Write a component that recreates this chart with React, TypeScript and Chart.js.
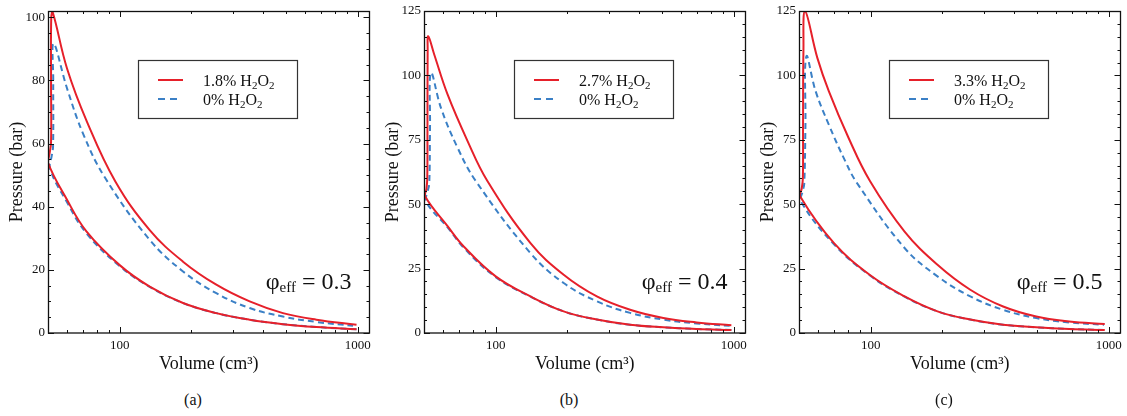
import { useEffect, useRef } from 'react';
import { Chart, registerables } from 'chart.js';

Chart.register(...registerables);

const SERIF = "'Liberation Serif', 'DejaVu Serif', serif";
const RED = '#e6202a';
const BLUE = '#3b80c6';

// ---- labels / ticks ----
const panelCaptions = ['(a)', '(b)', '(c)'];
const phiValues = ['0.3', '0.4', '0.5'];
const redLabels = ['1.8% H₂O₂', '2.7% H₂O₂', '3.3% H₂O₂'];
const blueLabel = '0% H₂O₂';
const xAxisTitle = 'Volume (cm³)';
const yAxisTitle = 'Pressure (bar)';
const yMaxValues = [102, 125, 125];
const yMajorTicksA = [0, 20, 40, 60, 80, 100];
const yMajorTicksBC = [0, 25, 50, 75, 100, 125];
const yMinorStep = 5;
const xMajorTicks = [100, 1000];
const xMinorTicks = [60, 70, 80, 90, 200, 300, 400, 500, 600, 700, 800, 900];
const xMin = 50;
const xMax = 1120;

// ---- panel (a): 1.8% H2O2 vs 0% ----
const redVolumeA = [988, 670, 485, 351.5, 254.6, 184.5, 133.7, 100, 72.5, 59.7, 50, 50.8, 51.5, 51.5, 51.6, 52.3, 60.1, 72.9, 95.9, 133.7, 184.5, 254.6, 351.5, 485, 670, 988];
const redPressureA = [1.2, 1.9, 2.8, 4.2, 6.3, 9.5, 14.7, 21.5, 32.2, 42.6, 54, 57, 60.5, 80, 100, 101.7, 83.8, 66.9, 48, 32.6, 22.6, 15.3, 10, 6.3, 4.2, 2.6];
const blueVolumeA = [988, 670, 485, 351.5, 254.6, 184.5, 133.7, 100, 72.5, 59.7, 51, 51.8, 52.5, 52.6, 52.8, 60.1, 70.6, 87.1, 133.7, 184.5, 254.6, 351.5, 485, 670, 955];
const bluePressureA = [1.2, 1.9, 2.8, 4.2, 6.3, 9.5, 14.6, 21.2, 31.6, 41.8, 52, 56, 59, 80, 91.7, 77.5, 62.7, 49, 29.5, 19.5, 12.6, 7.9, 5.2, 3.5, 2.3];

// ---- panel (b): 2.7% H2O2 vs 0% ----
const redVolumeB = [977, 698, 506, 367, 266, 193, 140, 100, 73.6, 62.8, 50.6, 51.2, 51.6, 51.7, 51.8, 52.1, 55.2, 62.8, 76.2, 92.3, 140, 193, 266, 367, 506, 698, 977];
const redPressureB = [1.15, 1.55, 2.2, 3.2, 5.2, 8.4, 14.2, 22, 33.5, 41.5, 53, 56, 60, 80, 110, 115.2, 108.1, 92.6, 74.5, 59, 34.9, 22.6, 14.2, 9, 5.8, 4.1, 3.0];
const blueVolumeB = [977, 698, 506, 367, 266, 193, 140, 100, 73.6, 62.8, 51, 51.8, 52.6, 53, 53.5, 58.9, 69.2, 82.5, 140, 193, 266, 367, 506, 698, 961];
const bluePressureB = [1.15, 1.55, 2.2, 3.2, 5.2, 8.4, 14.1, 21.7, 33, 41, 51, 55, 58, 80, 101, 87.4, 71.9, 59, 31, 19.4, 12.3, 7.8, 5.2, 3.7, 2.8];

// ---- panel (c): 3.3% H2O2 vs 0% ----
const redVolumeC = [962, 682, 496, 360, 262, 190.8, 138.8, 99.3, 70, 50.6, 51.3, 51.9, 52, 52.2, 53, 59.7, 66.7, 80.7, 99.3, 138.8, 190.8, 262, 360, 496, 682, 962];
const redPressureC = [1.15, 1.55, 2.2, 3.2, 5.2, 8.4, 14.2, 22.5, 35, 53, 56, 60, 80, 110, 125, 106.8, 93.9, 75.8, 59, 39.4, 26.5, 16.8, 10.3, 6.4, 4.5, 3.5];
const blueVolumeC = [955, 682, 496, 360, 262, 190.8, 138.8, 99.3, 70, 51, 51.8, 52.6, 53.2, 53.7, 58.7, 66.7, 78.2, 87.5, 138.8, 190.8, 262, 360, 496, 682, 955];
const bluePressureC = [1.15, 1.55, 2.2, 3.2, 5.2, 8.4, 14.1, 22.3, 34.5, 51, 55, 58, 80, 107.4, 93.9, 80.9, 66.7, 58.3, 33, 22, 14.2, 9, 5.8, 4.1, 3.2];

const redVolumes = [redVolumeA, redVolumeB, redVolumeC];
const redPressures = [redPressureA, redPressureB, redPressureC];
const blueVolumes = [blueVolumeA, blueVolumeB, blueVolumeC];
const bluePressures = [bluePressureA, bluePressureB, bluePressureC];

const PANEL_LEFT = [0, 376, 751];
const CANVAS_W = 376;
const CANVAS_H = 380;

function drawRich(ctx: CanvasRenderingContext2D, text: string, x: number, y: number, size: number) {
  let cx = x;
  let buf = '';
  const flush = () => {
    if (!buf) return;
    ctx.font = `${size}px ${SERIF}`;
    ctx.fillText(buf, cx, y);
    cx += ctx.measureText(buf).width;
    buf = '';
  };
  for (const ch of text) {
    if (ch === '₂') {
      flush();
      const s = Math.round(size * 0.68);
      ctx.font = `${s}px ${SERIF}`;
      ctx.fillText('2', cx, y + size * 0.22);
      cx += ctx.measureText('2').width;
    } else {
      buf += ch;
    }
  }
  flush();
}

function Panel({ index }: { index: number }) {
  const ref = useRef<HTMLCanvasElement | null>(null);

  useEffect(() => {
    const canvas = ref.current;
    if (!canvas) return;
    const yMajor = index === 0 ? yMajorTicksA : yMajorTicksBC;
    const yMax = yMaxValues[index];

    const framePlugin = {
      id: 'frameTicks',
      afterDatasetsDraw(chart: any) {
        const { ctx, chartArea } = chart;
        const { left, right, top, bottom } = chartArea;
        const xs = chart.scales.x;
        const ys = chart.scales.y;
        ctx.save();
        ctx.strokeStyle = '#111';
        ctx.lineWidth = 1;
        ctx.beginPath();
        const xt = (v: number, len: number) => {
          const p = Math.round(xs.getPixelForValue(v)) + 0.5;
          ctx.moveTo(p, bottom);
          ctx.lineTo(p, bottom - len);
          ctx.moveTo(p, top);
          ctx.lineTo(p, top + len);
        };
        const yt = (v: number, len: number) => {
          const p = Math.round(ys.getPixelForValue(v)) + 0.5;
          ctx.moveTo(left, p);
          ctx.lineTo(left + len, p);
          ctx.moveTo(right, p);
          ctx.lineTo(right - len, p);
        };
        xMajorTicks.forEach((v) => xt(v, 6));
        xMinorTicks.forEach((v) => xt(v, 3));
        for (let v = 0; v <= yMax; v += yMinorStep) {
          yt(v, yMajor.includes(v) ? 6 : 3);
        }
        ctx.stroke();
        ctx.lineWidth = 1.3;
        ctx.strokeRect(left + 0.5, top + 0.5, right - left - 0.5, bottom - top - 0.5);
        ctx.restore();
      },
    };

    const legendPlugin = {
      id: 'boxLegend',
      afterDraw(chart: any) {
        const { ctx, chartArea } = chart;
        const bx = chartArea.left + 90;
        const by = 60;
        const bw = 159;
        const bh = 58;
        ctx.save();
        ctx.fillStyle = '#fff';
        ctx.fillRect(bx, by, bw, bh);
        ctx.strokeStyle = '#333';
        ctx.lineWidth = 1.2;
        ctx.strokeRect(bx + 0.5, by + 0.5, bw, bh);
        const rows = chart.data.datasets;
        rows.forEach((ds: any, k: number) => {
          const cy = by + 20 + k * 19;
          ctx.beginPath();
          ctx.strokeStyle = ds.borderColor;
          ctx.lineWidth = 2;
          if (ds.borderDash) ctx.setLineDash([7, 5]);
          else ctx.setLineDash([]);
          ctx.moveTo(bx + 20, cy);
          ctx.lineTo(bx + (ds.borderDash ? 39 : 45), cy);
          ctx.stroke();
          ctx.setLineDash([]);
          ctx.fillStyle = '#111';
          ctx.textBaseline = 'alphabetic';
          ctx.textAlign = 'left';
          drawRich(ctx, ds.label, bx + 65, cy + 5.5, 16);
        });
        ctx.restore();
      },
    };

    const phiPlugin = {
      id: 'phiNote',
      afterDraw(chart: any) {
        const { ctx, chartArea } = chart;
        const baseY = chartArea.bottom - 44;
        const main = `24px ${SERIF}`;
        const sub = `15px ${SERIF}`;
        ctx.save();
        ctx.fillStyle = '#111';
        ctx.textBaseline = 'alphabetic';
        ctx.textAlign = 'left';
        ctx.font = main;
        const wPhi = ctx.measureText('φ').width;
        const rest = ' = ' + phiValues[index];
        const wRest = ctx.measureText(rest).width;
        ctx.font = sub;
        const wEff = ctx.measureText('eff').width;
        let x = chartArea.right - 18 - (wPhi + wEff + wRest);
        ctx.font = main;
        ctx.fillText('φ', x, baseY);
        x += wPhi;
        ctx.font = sub;
        ctx.fillText('eff', x, baseY + 3);
        x += wEff;
        ctx.font = main;
        ctx.fillText(rest, x, baseY);
        ctx.restore();
      },
    };

    const mk = (xs: number[], ys: number[]) => xs.map((x, k) => ({ x, y: ys[k] }));

    const chart = new Chart(canvas, {
      type: 'scatter',
      data: {
        datasets: [
          {
            label: redLabels[index],
            data: mk(redVolumes[index], redPressures[index]),
            showLine: true,
            borderColor: RED,
            backgroundColor: RED,
            borderWidth: 2,
            pointRadius: 0,
            tension: 0.4,
            fill: false,
          },
          {
            label: blueLabel,
            data: mk(blueVolumes[index], bluePressures[index]),
            showLine: true,
            borderColor: BLUE,
            backgroundColor: BLUE,
            borderWidth: 2,
            borderDash: [6, 4],
            pointRadius: 0,
            tension: 0.4,
            fill: false,
          },
        ],
      },
      options: {
        animation: false,
        responsive: false,
        maintainAspectRatio: false,
        layout: { padding: { top: 11, right: 6, bottom: 0, left: 0 } },
        plugins: {
          legend: { display: false },
          tooltip: { enabled: false },
        },
        scales: {
          x: {
            type: 'logarithmic',
            min: xMin,
            max: xMax,
            grid: { display: false, drawTicks: false },
            border: { display: false },
            afterBuildTicks: (s: any) => {
              s.ticks = xMajorTicks.map((value) => ({ value }));
            },
            afterFit: (s: any) => {
              s.height = 47;
            },
            ticks: {
              padding: 5,
              color: '#111',
              autoSkip: false,
              maxRotation: 0,
              font: { family: SERIF, size: 13 },
              callback: (v: any) => String(v),
            },
            title: {
              display: true,
              text: xAxisTitle,
              color: '#111',
              font: { family: SERIF, size: 18 },
              padding: { top: 0, bottom: 5 },
            },
          },
          y: {
            type: 'linear',
            min: 0,
            max: yMax,
            grid: { display: false, drawTicks: false },
            border: { display: false },
            afterBuildTicks: (s: any) => {
              s.ticks = yMajor.map((value) => ({ value }));
            },
            afterFit: (s: any) => {
              s.width = 48;
            },
            ticks: {
              padding: 3,
              color: '#111',
              font: { family: SERIF, size: 13 },
              callback: (v: any) => String(v),
            },
            title: {
              display: true,
              text: yAxisTitle,
              color: '#111',
              font: { family: SERIF, size: 18 },
              padding: { top: 6, bottom: 0 },
            },
          },
        },
      } as any,
      plugins: [framePlugin, legendPlugin, phiPlugin],
    });

    return () => chart.destroy();
  }, [index]);

  return (
    <>
      <canvas
        ref={ref}
        width={CANVAS_W}
        height={CANVAS_H}
        style={{ position: 'absolute', left: PANEL_LEFT[index], top: 0, width: CANVAS_W, height: CANVAS_H }}
      />
      <div
        style={{
          position: 'absolute',
          left: PANEL_LEFT[index] + 193 - 30,
          top: 392,
          width: 60,
          textAlign: 'center',
          fontFamily: SERIF,
          fontSize: 16,
          lineHeight: '16px',
          color: '#111',
        }}
      >
        {panelCaptions[index]}
      </div>
    </>
  );
}

export default function App() {
  return (
    <div style={{ position: 'absolute', left: 0, top: 0, width: 1127, height: 416, background: '#fff', overflow: 'hidden' }}>
      <Panel index={0} />
      <Panel index={1} />
      <Panel index={2} />
    </div>
  );
}
